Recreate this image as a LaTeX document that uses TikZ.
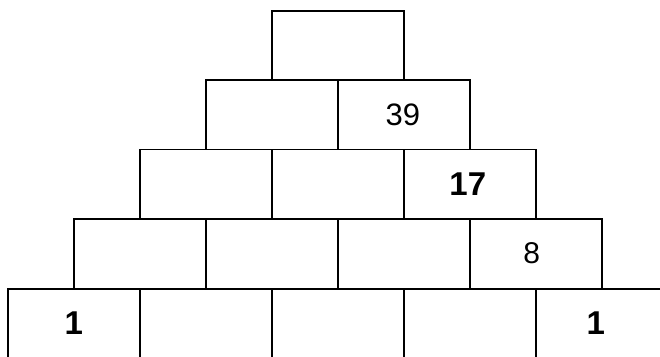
\documentclass[tikz,border=0pt]{standalone}
\usepackage{fontspec}
\setmainfont{Liberation Sans}
\begin{document}
\begin{tikzpicture}[x=1pt,y=-1pt,
  brick/.style={draw=black, line width=1.5pt, minimum width=132pt, minimum height=69.5pt, inner sep=0pt, anchor=north west},
  numreg/.style={inner sep=0pt, font=\fontsize{31}{31}\selectfont},
  numbold/.style={inner sep=0pt, font=\fontsize{33}{33}\selectfont\bfseries}]
\useasboundingbox (0,0) rectangle (660,356);
\clip (0,0) rectangle (660,356);
% row 0
\node[brick] (r0c0) at (271,10) {};
% row 1
\node[brick] (r1c0) at (205,79) {};
\node[brick] (r1c1) at (337,79) {};
% row 2
\node[brick] (r2c0) at (139,148.5) {};
\node[brick] (r2c1) at (271,148.5) {};
\node[brick] (r2c2) at (403,148.5) {};
% row 3
\node[brick] (r3c0) at (73,218) {};
\node[brick] (r3c1) at (205,218) {};
\node[brick] (r3c2) at (337,218) {};
\node[brick] (r3c3) at (469,218) {};
% row 4
\node[brick] (r4c0) at (7,288) {};
\node[brick] (r4c1) at (139,288) {};
\node[brick] (r4c2) at (271,288) {};
\node[brick] (r4c3) at (403,288) {};
\node[brick] (r4c4) at (535,288) {};
% numbers
\node[numreg] (t39) at ([xshift=-1pt]r1c1.center) {39};
\node[numbold] (t17) at ([xshift=-2pt]r2c2.center) {17};
\node[numreg, font=\fontsize{30}{30}\selectfont] (t8) at ([xshift=-4pt]r3c3.center) {8};
\node[numbold] (t1a) at ([xshift=0pt]r4c0.center) {1};
\node[numbold] (t1b) at ([xshift=-6pt]r4c4.center) {1};
\end{tikzpicture}
\end{document}
